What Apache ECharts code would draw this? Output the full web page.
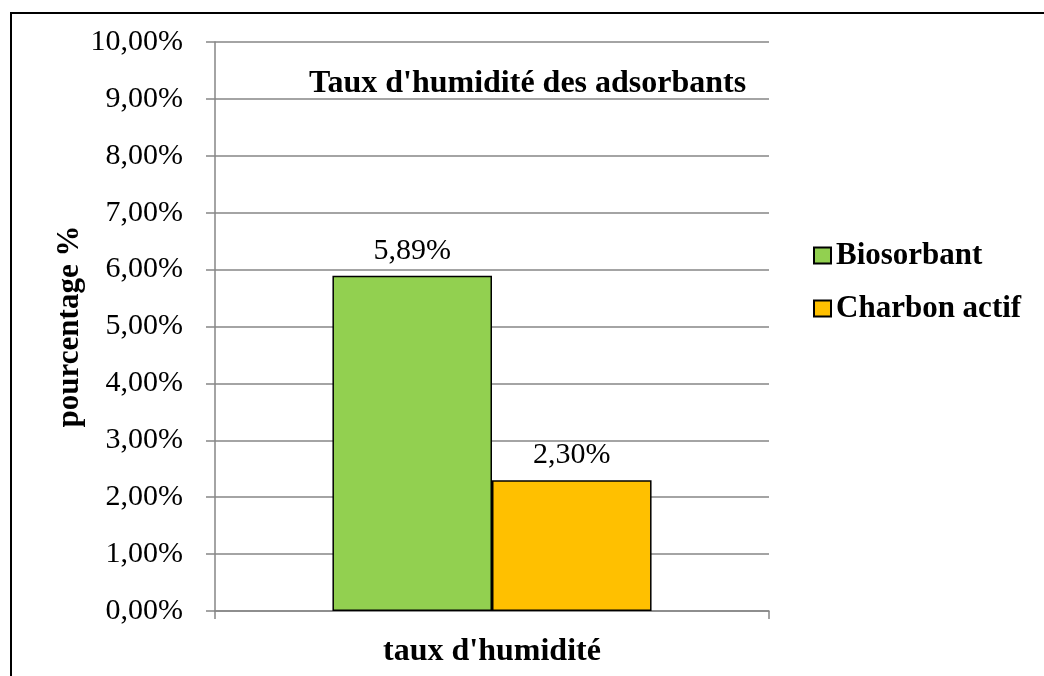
<!DOCTYPE html>
<html>
<head>
<meta charset="utf-8">
<title>Taux d'humidité des adsorbants</title>
<script src="https://cdn.jsdelivr.net/npm/echarts@6/dist/echarts.min.js"></script>
<style>
	body { margin: 0; background: #fff; }
	#main { width: 1044px; height: 676px; position: absolute; left: 0; top: 0; }
	/* cadre du graphique (coupé à droite et en bas) */
	#frame { position: absolute; left: 10px; top: 12px; width: 1100px; height: 700px; border: 2px solid #000; pointer-events: none; }
</style>
</head>
<body>
<div id="main"></div>
<div id="frame"></div>
<script>
// données
var categories = ["taux d'humidité"];
var seriesNames = ['Biosorbant', 'Charbon actif'];
var biosorbant = [5.89];
var charbonActif = [2.30];
var seriesColors = ['#92D050', '#FFC000'];

function pct(v) {
	return v.toFixed(2).replace('.', ',') + '%';
}

var serif = '"Liberation Serif", "Times New Roman", serif';
var gridColor = '#868686';

var chart = echarts.init(document.getElementById('main'));
var option = {
	animation: false,
	title: {
		text: "Taux d'humidité des adsorbants",
		left: 304,
		top: 63,
		textStyle: { fontFamily: serif, fontWeight: 'bold', fontSize: 32, color: '#000' }
	},
	legend: {
		orient: 'vertical',
		left: 808,
		top: 235,
		itemWidth: 17,
		itemHeight: 16,
		itemGap: 22,
		icon: 'rect',
		data: seriesNames,
		textStyle: { fontFamily: serif, fontWeight: 'bold', fontSize: 31, color: '#000' }
	},
	grid: { left: 215, right: 275, top: 42, bottom: 65 },
	xAxis: {
		type: 'category',
		data: categories,
		name: categories[0],
		nameLocation: 'middle',
		nameGap: 25,
		nameTextStyle: { fontFamily: serif, fontWeight: 'bold', fontSize: 32, color: '#000' },
		axisLine: { lineStyle: { color: gridColor, width: 1.5 } },
		axisTick: { show: true, length: 8, lineStyle: { color: gridColor, width: 1.5 } },
		axisLabel: { show: false }
	},
	yAxis: {
		type: 'value',
		min: 0,
		max: 10,
		interval: 1,
		name: 'pourcentage %',
		nameLocation: 'middle',
		nameGap: 130,
		nameMoveOverlap: false,
		nameTextStyle: { fontFamily: serif, fontWeight: 'bold', fontSize: 31, color: '#000' },
		axisLine: { show: true, lineStyle: { color: gridColor, width: 1.5 } },
		axisTick: { show: true, length: 9, lineStyle: { color: gridColor, width: 1.5 } },
		axisLabel: { margin: 32, fontFamily: serif, fontSize: 30, color: '#000', formatter: pct },
		splitLine: { lineStyle: { color: gridColor, width: 1.5 } }
	},
	series: [
		{
			name: seriesNames[0],
			type: 'bar',
			data: biosorbant,
			barGap: '0%',
			barCategoryGap: '42.4%',
			itemStyle: { color: seriesColors[0], borderColor: '#000', borderWidth: 1.5 },
			label: { show: true, position: 'top', distance: 10, fontFamily: serif, fontSize: 30, color: '#000',
				formatter: function (p) { return pct(p.value); } }
		},
		{
			name: seriesNames[1],
			type: 'bar',
			data: charbonActif,
			itemStyle: { color: seriesColors[1], borderColor: '#000', borderWidth: 1.5 },
			label: { show: true, position: 'top', distance: 10, fontFamily: serif, fontSize: 30, color: '#000',
				formatter: function (p) { return pct(p.value); } }
		}
	]
};
chart.setOption(option);
</script>
</body>
</html>
